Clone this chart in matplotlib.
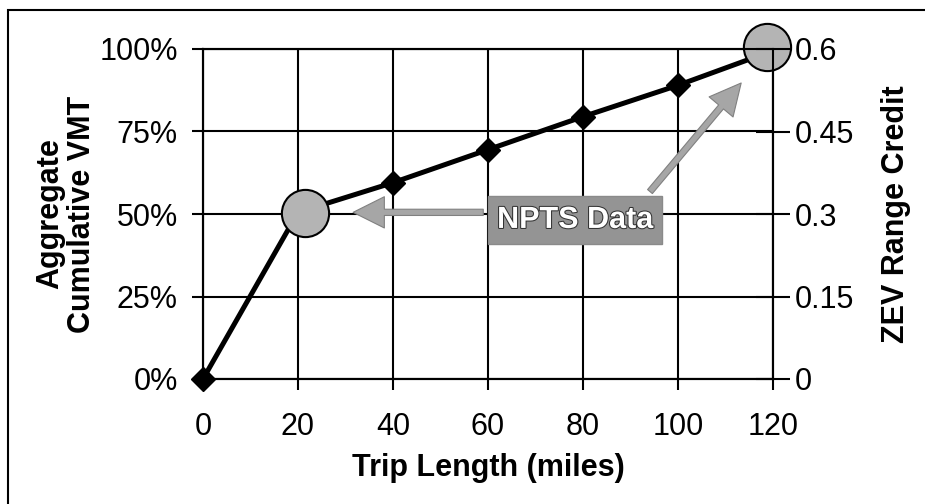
import matplotlib.pyplot as plt
import matplotlib.patheffects as pe
from matplotlib.patches import Rectangle

plt.rcParams['font.family'] = ['Liberation Sans', 'DejaVu Sans']

# Chart data
trip_length = [0, 20, 40, 60, 80, 100, 120]
cum_vmt = [0, 50.5, 59.5, 69.5, 79.5, 89, 99.5]
# highlighted NPTS points (circles)
npts_x = [21.5, 118.7]
npts_y = [50.3, 100.5]

x_ticks = [0, 20, 40, 60, 80, 100, 120]
left_ticks = [0, 25, 50, 75, 100]
left_labels = ['0%', '25%', '50%', '75%', '100%']
right_ticks = [0, 0.15, 0.3, 0.45, 0.6]
right_labels = ['0', '0.15', '0.3', '0.45', '0.6']

fig = plt.figure(figsize=(9.25, 5.04), dpi=100)
ax = fig.add_axes([203 / 925, 1 - 379 / 504, 570 / 925, 330 / 504])

ax.set_xlim(0, 120)
ax.set_ylim(0, 100)
ax.set_xticks(x_ticks)
ax.set_yticks(left_ticks)
ax.set_yticklabels(left_labels)
ax.grid(True, color='black', linewidth=1.5)
ax.set_axisbelow(True)
for s in ax.spines.values():
    s.set_linewidth(1.5)
ax.tick_params(axis='y', labelsize=22, width=1.5, length=8, direction='out', pad=10)
ax.tick_params(axis='x', labelsize=22, width=1.5, length=8, direction='out', pad=16)

ax.plot(trip_length, cum_vmt, color='black', linewidth=3.6, marker='D',
        markersize=12, clip_on=False, zorder=5)
ax.plot(npts_x, npts_y, linestyle='none', marker='o', markersize=34,
        markerfacecolor='#b4b4b4', markeredgecolor='black', markeredgewidth=1.5,
        clip_on=False, zorder=6)

ax.set_xlabel('Trip Length (miles)', fontsize=22, fontweight='bold', labelpad=8)
ax.set_ylabel('Aggregate\nCumulative VMT', fontsize=22, fontweight='bold',
              labelpad=2, linespacing=1.05)

ax2 = ax.twinx()
ax2.set_ylim(0, 0.6)
ax2.set_yticks(right_ticks)
ax2.set_yticklabels(right_labels)
ax2.tick_params(axis='y', labelsize=22, width=1.5, length=24, direction='inout', pad=4)
for s in ax2.spines.values():
    s.set_linewidth(1.5)
ax2.set_ylabel('ZEV Range Credit', fontsize=22, fontweight='bold', labelpad=19)

# annotation box and arrows
txt = ax.text(78.3, 48.2, 'NPTS Data', fontsize=22, fontweight='bold', color='white',
              ha='center', va='center', zorder=7,
              bbox=dict(boxstyle='square,pad=0.3', facecolor='#949494', edgecolor='#8a8a8a'))
txt.set_path_effects([pe.withStroke(linewidth=1.5, foreground='#333333')])

arrow_style = dict(arrowstyle='simple,head_length=1.5,head_width=1.5,tail_width=0.3',
                   facecolor='#a6a6a6', edgecolor='#808080', linewidth=0.8,
                   mutation_scale=15, shrinkA=0, shrinkB=0)
ax.annotate('', xy=(31.6, 50.5), xytext=(59, 50.5), arrowprops=arrow_style, zorder=6)
ax.annotate('', xy=(113.3, 89.7), xytext=(94.1, 56.8), arrowprops=arrow_style, zorder=6)

# outer frame
fig.patches.append(Rectangle((8 / 925, -0.1), 1.2, 1.1 - 10 / 504, transform=fig.transFigure,
                             fill=False, edgecolor='black', linewidth=1.5))

fig.savefig('out.png', dpi=100)
